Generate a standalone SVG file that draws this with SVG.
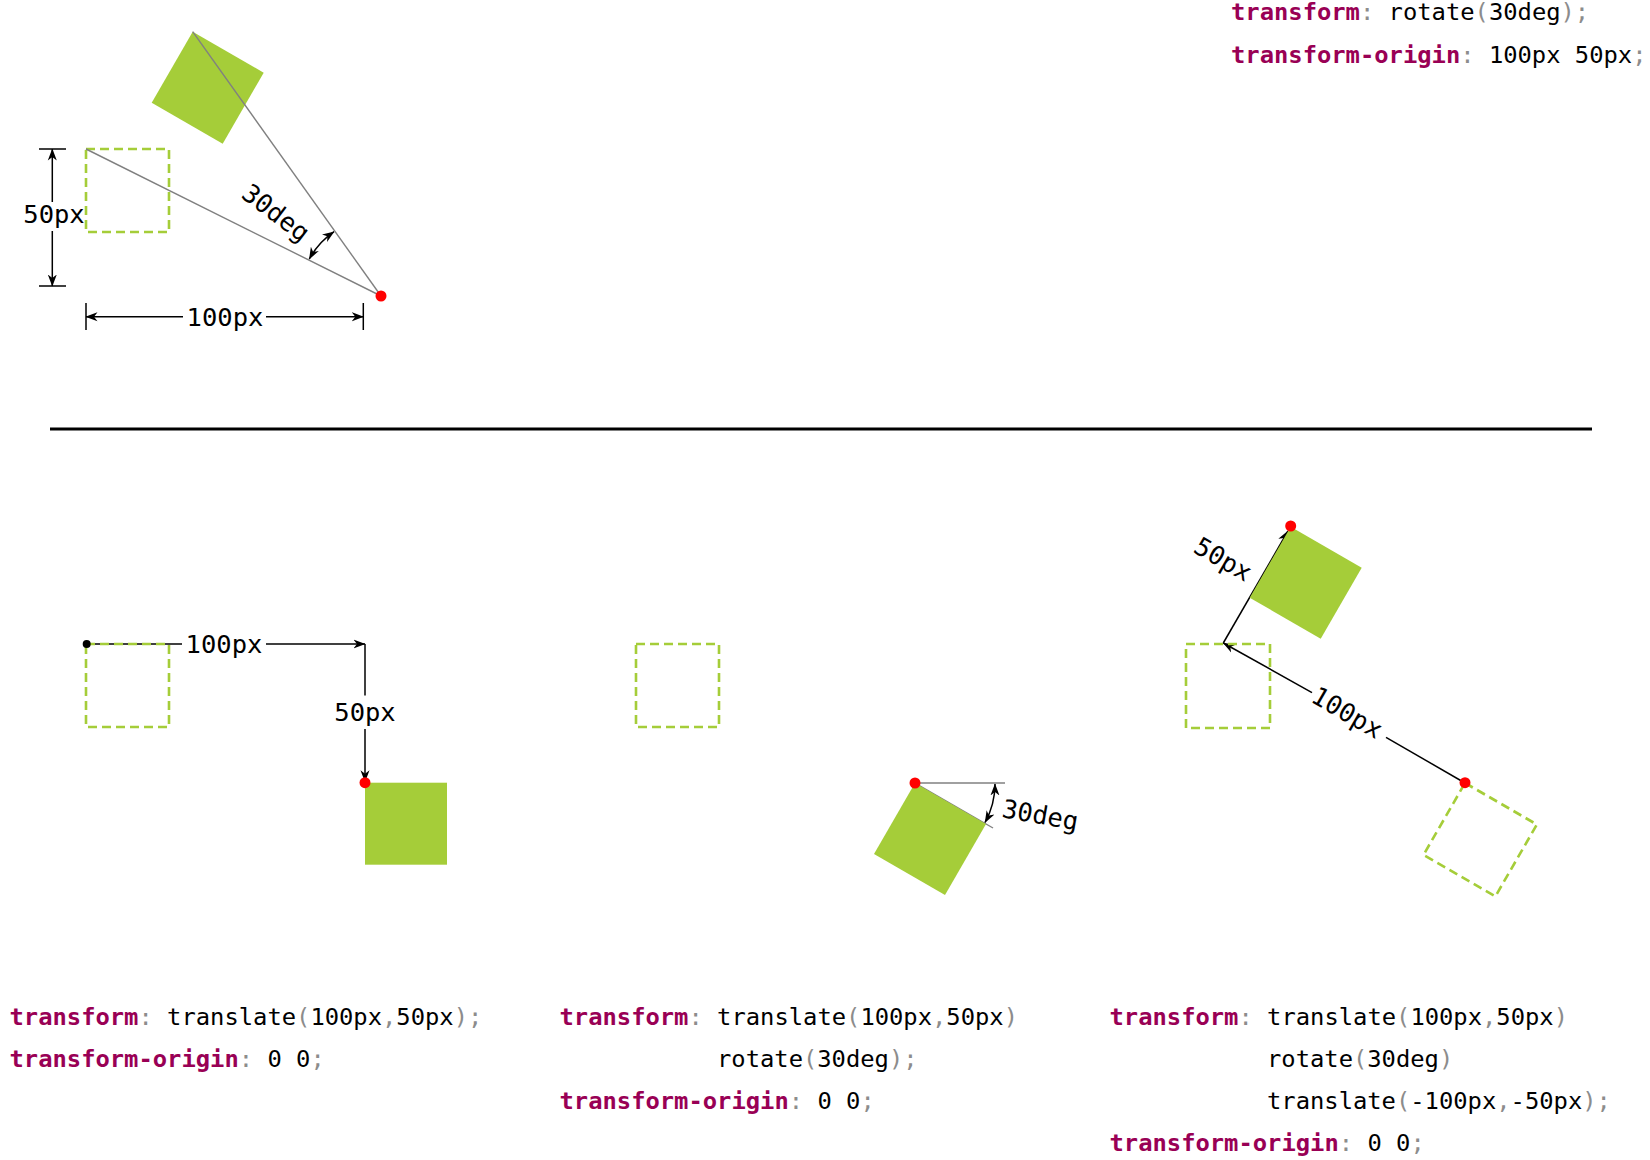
<svg xmlns="http://www.w3.org/2000/svg" width="1650" height="1160" viewBox="0 0 1650 1160">
<style>
.fill{fill:#a5cd39;}
.dash{fill:none;stroke:#a5cd39;stroke-width:2.6;stroke-dasharray:9,5;}
.guide{stroke:#808080;stroke-width:1.4;fill:none;}
.dim{stroke:#000;stroke-width:1.5;fill:none;}
.tick{stroke:#000;stroke-width:1.5;}
.dot{fill:#ff0000;}
.lbl{font-family:"DejaVu Sans Mono","Liberation Mono",monospace;font-size:25.5px;fill:#000;}
.code{font-family:"DejaVu Sans Mono","Liberation Mono",monospace;font-size:23.8px;fill:#000;}
.kw{fill:#990055;font-weight:bold;}
.p{fill:#8c8c8c;}
</style>
<defs>
<marker id="arr" viewBox="0 0 12 10" refX="11.5" refY="5" markerWidth="12" markerHeight="10" markerUnits="userSpaceOnUse" orient="auto-start-reverse">
<path d="M0,0.5 L12,5 L0,9.5 L3.5,5 z" fill="#000"/>
</marker>
</defs>

<g id="shapes-top">
<g id="top-original"><rect class="dash" x="86" y="149" width="83" height="83"/></g>
<g id="top-rotated"><rect class="fill" x="0" y="0" width="82" height="82" transform="translate(192.7,31.7) rotate(30)"/></g>
</g>

<g id="connectors">
<line class="guide" x1="381" y1="296" x2="86" y2="149"/>
<line class="guide" x1="381" y1="296" x2="192.7" y2="31.7"/>
<path class="dim" d="M309.3,259 A80,80 0 0 1 334,231.7" marker-start="url(#arr)" marker-end="url(#arr)"/>
<line class="dim" x1="52.3" y1="202" x2="52.3" y2="149" marker-end="url(#arr)"/>
<line class="dim" x1="52.3" y1="231" x2="52.3" y2="286" marker-end="url(#arr)"/>
<line class="tick" x1="39" y1="149" x2="66" y2="149"/>
<line class="tick" x1="39" y1="286" x2="66" y2="286"/>
<line class="dim" x1="183" y1="316.7" x2="86" y2="316.7" marker-end="url(#arr)"/>
<line class="dim" x1="266" y1="316.7" x2="363.3" y2="316.7" marker-end="url(#arr)"/>
<line class="tick" x1="86" y1="303" x2="86" y2="330"/>
<line class="tick" x1="363.3" y1="303" x2="363.3" y2="330"/>
<line x1="50" y1="429" x2="1592" y2="429" stroke="#000" stroke-width="3"/>
<line class="dim" x1="86.7" y1="644" x2="182" y2="644"/>
<line class="dim" x1="266" y1="644" x2="365" y2="644" marker-end="url(#arr)"/>
<line class="dim" x1="365" y1="644" x2="365" y2="695.5"/>
<line class="dim" x1="365" y1="729" x2="365" y2="781.7" marker-end="url(#arr)"/>
<line class="guide" x1="915" y1="783" x2="1005" y2="783"/>
<line class="guide" x1="915" y1="783" x2="993" y2="828"/>
<path class="dim" d="M995,784 A80,80 0 0 1 985,822.5" marker-start="url(#arr)" marker-end="url(#arr)"/>
<line class="dim" x1="1465" y1="783" x2="1386" y2="737.3"/>
<line class="dim" x1="1312" y1="692.6" x2="1223.3" y2="643" marker-end="url(#arr)"/>
<line class="dim" x1="1223.3" y1="643" x2="1288" y2="531" marker-end="url(#arr)"/>
</g>

<g id="shapes-bottom">
<g id="bl-original"><rect class="dash" x="86" y="644" width="83" height="83"/></g>
<g id="bl-result"><rect class="fill" x="365" y="782.7" width="82" height="82"/></g>
<g id="bm-original"><rect class="dash" x="636" y="644" width="83" height="83"/></g>
<g id="bm-result"><rect class="fill" x="0" y="0" width="82" height="82" transform="translate(915,783) rotate(30)"/></g>
<g id="br-original"><rect class="dash" x="1186" y="644" width="84" height="84"/></g>
<g id="br-rotated"><rect class="dash" x="0" y="0" width="83" height="83" transform="translate(1465,783) rotate(30)"/></g>
<g id="br-result"><rect class="fill" x="0" y="0" width="82" height="82" transform="translate(1290.7,526.7) rotate(30)"/></g>
</g>

<g id="points">
<circle class="dot" cx="381" cy="296" r="5.5"/>
<circle cx="86.7" cy="644" r="4" fill="#000"/>
<circle class="dot" cx="365" cy="782.7" r="5.5"/>
<circle class="dot" cx="915" cy="783" r="5.5"/>
<circle class="dot" cx="1290.7" cy="526" r="5.5"/>
<circle class="dot" cx="1465" cy="782.7" r="5.5"/>
</g>

<g id="labels">
<text class="lbl" x="54" y="223" text-anchor="middle">50px</text>
<text class="lbl" x="225" y="326" text-anchor="middle">100px</text>
<text class="lbl" text-anchor="middle" transform="translate(275.5,213.5) rotate(37)" x="0" y="8">30deg</text>
<text class="lbl" x="224" y="653" text-anchor="middle">100px</text>
<text class="lbl" x="365" y="721" text-anchor="middle">50px</text>
<text class="lbl" transform="translate(1001,817) rotate(10)" x="0" y="0">30deg</text>
<text class="lbl" text-anchor="middle" transform="translate(1346.7,713.3) rotate(30)" x="0" y="8">100px</text>
<text class="lbl" text-anchor="middle" transform="translate(1221.7,561.7) rotate(30)" x="0" y="6">50px</text>
</g>

<g id="code-top">
<text class="code" x="1231" y="20"><tspan class="kw">transform</tspan><tspan class="p">:</tspan> rotate<tspan class="p">(</tspan>30deg<tspan class="p">);</tspan></text>
<text class="code" x="1231" y="63"><tspan class="kw">transform-origin</tspan><tspan class="p">:</tspan> 100px 50px<tspan class="p">;</tspan></text>
</g>

<g id="code-1">
<text class="code" x="9.5" y="1025"><tspan class="kw">transform</tspan><tspan class="p">:</tspan> translate<tspan class="p">(</tspan>100px<tspan class="p">,</tspan>50px<tspan class="p">);</tspan></text>
<text class="code" x="9.5" y="1067"><tspan class="kw">transform-origin</tspan><tspan class="p">:</tspan> 0 0<tspan class="p">;</tspan></text>
</g>

<g id="code-2">
<text class="code" x="559.5" y="1025"><tspan class="kw">transform</tspan><tspan class="p">:</tspan> translate<tspan class="p">(</tspan>100px<tspan class="p">,</tspan>50px<tspan class="p">)</tspan></text>
<text class="code" x="717" y="1067">rotate<tspan class="p">(</tspan>30deg<tspan class="p">);</tspan></text>
<text class="code" x="559.5" y="1109"><tspan class="kw">transform-origin</tspan><tspan class="p">:</tspan> 0 0<tspan class="p">;</tspan></text>
</g>

<g id="code-3">
<text class="code" x="1109.5" y="1025"><tspan class="kw">transform</tspan><tspan class="p">:</tspan> translate<tspan class="p">(</tspan>100px<tspan class="p">,</tspan>50px<tspan class="p">)</tspan></text>
<text class="code" x="1267" y="1067">rotate<tspan class="p">(</tspan>30deg<tspan class="p">)</tspan></text>
<text class="code" x="1267" y="1109">translate<tspan class="p">(</tspan>-100px<tspan class="p">,</tspan>-50px<tspan class="p">);</tspan></text>
<text class="code" x="1109.5" y="1151"><tspan class="kw">transform-origin</tspan><tspan class="p">:</tspan> 0 0<tspan class="p">;</tspan></text>
</g>
</svg>
